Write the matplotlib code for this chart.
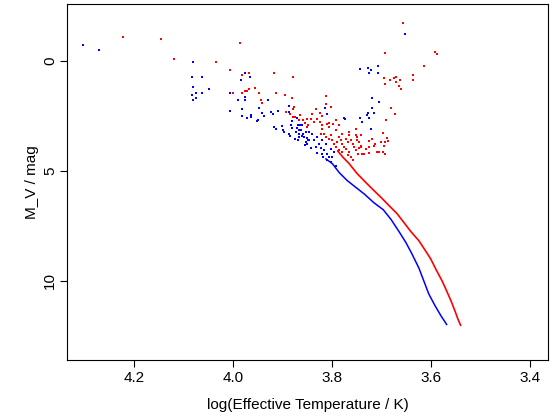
import matplotlib
matplotlib.use("Agg")
from matplotlib import pyplot as plt

plt.rcParams['font.family'] = ['Liberation Sans', 'DejaVu Sans']

# main sequence tracks (log Teff, M_V)
blue_seq_logt = [3.814, 3.800, 3.786, 3.770, 3.752, 3.734, 3.716, 3.697, 3.681, 3.665,
                 3.651, 3.639, 3.625, 3.615, 3.605, 3.593, 3.580, 3.568]
blue_seq_mv = [4.43, 4.66, 5.07, 5.43, 5.75, 6.07, 6.44, 6.76, 7.21, 7.76,
               8.26, 8.77, 9.41, 10.00, 10.59, 11.10, 11.60, 12.01]

red_seq_logt = [3.790, 3.778, 3.766, 3.750, 3.734, 3.718, 3.701, 3.685, 3.669, 3.655,
                3.641, 3.625, 3.613, 3.601, 3.589, 3.578, 3.568, 3.560, 3.552, 3.546, 3.540]
red_seq_mv = [4.06, 4.38, 4.66, 5.11, 5.48, 5.84, 6.21, 6.58, 6.94, 7.35,
              7.76, 8.17, 8.58, 9.00, 9.54, 10.00, 10.50, 10.91, 11.37, 11.74, 12.05]

# scattered stars
red_logt = [4.223, 4.146, 4.120, 4.034, 3.987, 4.007, 3.982, 3.969, 3.917, 3.880,
            4.001, 3.983, 3.977, 3.973, 3.969, 3.957, 3.947, 3.943, 3.941, 3.913,
            3.896, 3.882, 3.878, 3.880, 3.894, 3.886, 3.880, 3.876, 3.866, 3.868,
            3.860, 3.852, 3.856, 3.850, 3.848, 3.658, 3.693, 3.592, 3.588, 3.614,
            3.636, 3.636, 3.695, 3.683, 3.675, 3.671, 3.671, 3.663, 3.693, 3.665,
            3.661, 3.681, 3.673, 3.691, 3.812, 3.812, 3.802, 3.832, 3.697, 3.689,
            3.687, 3.693, 3.695, 3.697, 3.693, 3.701, 3.705, 3.713, 3.719, 3.725,
            3.725, 3.735, 3.751, 3.749, 3.745, 3.741, 3.747, 3.820, 3.824, 3.810,
            3.820, 3.842, 3.840, 3.830, 3.825, 3.806, 3.798, 3.793, 3.823, 3.816,
            3.813, 3.806, 3.803, 3.800, 3.796, 3.793, 3.790, 3.786, 3.783, 3.780,
            3.776, 3.773, 3.769, 3.766, 3.763, 3.759, 3.756, 3.752, 3.749, 3.746,
            3.742, 3.766, 3.769, 3.763, 3.759, 3.773, 3.780, 3.786, 3.739, 3.732,
            3.726, 3.716, 3.709, 3.837, 3.820, 3.806, 3.793, 3.786, 3.780, 3.766,
            3.752, 3.742]
red_mv = [-1.08, -0.99, -0.08, 0.05, -0.81, 0.42, 0.65, 0.56, 0.52, 0.70,
          1.43, 1.43, 1.34, 1.34, 1.25, 1.20, 1.47, 1.79, 1.89, 1.47,
          1.52, 1.66, 2.07, 2.16, 2.30, 2.39, 2.52, 2.52, 2.43, 2.66,
          2.66, 2.62, 2.80, 2.98, 2.89, -1.72, -0.35, -0.40, -0.31, 0.24,
          0.61, 0.88, 0.79, 0.84, 0.79, 0.70, 0.93, 0.88, 1.02, 1.11,
          1.29, 2.11, 2.39, 2.66, 1.57, 1.93, 2.07, 2.16, 3.26, 3.48,
          3.62, 3.67, 3.85, 4.12, 4.21, 3.67, 4.12, 3.76, 3.53, 3.89,
          4.17, 4.21, 3.35, 3.58, 3.94, 3.89, 4.21, 2.48, 2.34, 2.84,
          2.89, 2.62, 2.39, 2.62, 2.77, 2.82, 2.84, 2.69, 3.30, 3.30,
          3.46, 3.53, 3.38, 3.61, 3.76, 3.91, 3.68, 3.46, 3.61, 3.76,
          3.91, 3.53, 3.68, 3.38, 3.61, 3.76, 3.91, 4.06, 3.46, 3.68,
          3.84, 4.14, 4.29, 4.37, 4.52, 3.99, 4.14, 4.06, 4.21, 3.99,
          3.65, 3.84, 4.14, 2.77, 3.07, 3.00, 3.15, 2.92, 3.30, 3.23,
          3.07, 3.38]

blue_logt = [4.304, 4.271, 4.082, 3.977, 3.967, 3.985, 4.084, 4.064, 4.082, 4.050,
             4.076, 4.084, 4.064, 4.082, 4.076, 4.007, 3.977, 3.977, 3.991, 3.929,
             4.007, 3.983, 3.983, 3.973, 3.965, 3.965, 3.949, 3.941, 3.937, 3.951,
             3.953, 3.923, 3.919, 3.909, 3.888, 3.888, 3.917, 3.913, 3.902, 3.900,
             3.898, 3.888, 3.886, 3.882, 3.882, 3.872, 3.870, 3.866, 3.862, 3.872,
             3.868, 3.864, 3.874, 3.868, 3.860, 3.854, 3.876, 3.870, 3.868, 3.862,
             3.858, 3.852, 3.854, 3.856, 3.850, 3.848, 3.652, 3.743, 3.727, 3.721,
             3.725, 3.707, 3.707, 3.719, 3.705, 3.727, 3.729, 3.715, 3.725, 3.743,
             3.739, 3.721, 3.719, 3.776, 3.774, 3.814, 3.810, 3.847, 3.840, 3.847,
             3.837, 3.830, 3.826, 3.823, 3.833, 3.820, 3.813, 3.816, 3.810, 3.806,
             3.800, 3.803, 3.796, 3.843, 3.831, 3.818, 3.884, 3.820, 3.810, 3.803,
             3.793]
blue_mv = [-0.72, -0.49, 0.05, 0.56, 0.74, 0.88, 0.74, 0.70, 1.16, 1.29,
           1.47, 1.52, 1.43, 1.75, 1.70, 1.43, 1.61, 1.79, 1.79, 1.79,
           2.25, 2.16, 2.48, 2.57, 2.43, 2.52, 2.11, 2.34, 2.48, 2.66,
           2.71, 2.30, 2.39, 2.25, 2.02, 2.30, 2.98, 3.07, 2.94, 3.12,
           3.21, 3.30, 3.39, 3.03, 2.71, 2.57, 2.89, 2.89, 2.89, 3.03,
           3.12, 3.12, 3.21, 3.30, 3.30, 3.21, 3.53, 3.58, 3.44, 3.39,
           3.44, 3.48, 3.67, 3.80, 3.76, 3.58, -1.23, 0.38, 0.29, 0.42,
           0.56, 0.20, 0.52, 1.70, 1.84, 2.34, 2.43, 2.34, 2.57, 2.57,
           2.75, 3.07, 2.11, 2.57, 2.62, 2.11, 2.39, 3.23, 3.30, 3.58,
           3.61, 3.46, 3.76, 3.94, 3.91, 3.61, 3.76, 4.06, 4.21, 4.34,
           4.37, 3.99, 4.14, 3.97, 4.16, 4.34, 2.92, 4.21, 4.52, 4.60,
           4.75]

fig = plt.figure(figsize=(5.52, 4.16), dpi=100)
ax = fig.add_axes([67 / 552, 56 / 416, 481 / 552, 356 / 416])

ax.plot(blue_seq_logt, blue_seq_mv, color='blue', lw=1.1, solid_capstyle='butt')
ax.plot(red_seq_logt, red_seq_mv, color='red', lw=1.2, solid_capstyle='butt')
ax.scatter(blue_logt, blue_mv, s=1.4, marker='s', color='blue', linewidths=0)
ax.scatter(red_logt, red_mv, s=1.4, marker='s', color='red', linewidths=0)

ax.set_xlim(4.336, 3.364)
ax.set_ylim(13.6, -2.6)
ax.set_xticks([4.2, 4.0, 3.8, 3.6, 3.4])
ax.set_xticklabels(['4.2', '4.0', '3.8', '3.6', '3.4'])
ax.set_yticks([0, 5, 10])
ax.set_yticklabels(['0', '5', '10'], rotation=90, va='center')
ax.tick_params(axis='x', direction='out', length=5, width=0.8, pad=3, labelsize=11, colors='black')
ax.tick_params(axis='y', direction='out', length=5, width=0.8, pad=2, labelsize=11, colors='black')
ax.set_xlabel('log(Effective Temperature / K)', fontsize=11, labelpad=9)
ax.set_ylabel('M_V / mag', fontsize=11, labelpad=3)
for sp in ax.spines.values():
    sp.set_linewidth(0.8)

fig.savefig('out.png', dpi=100)
